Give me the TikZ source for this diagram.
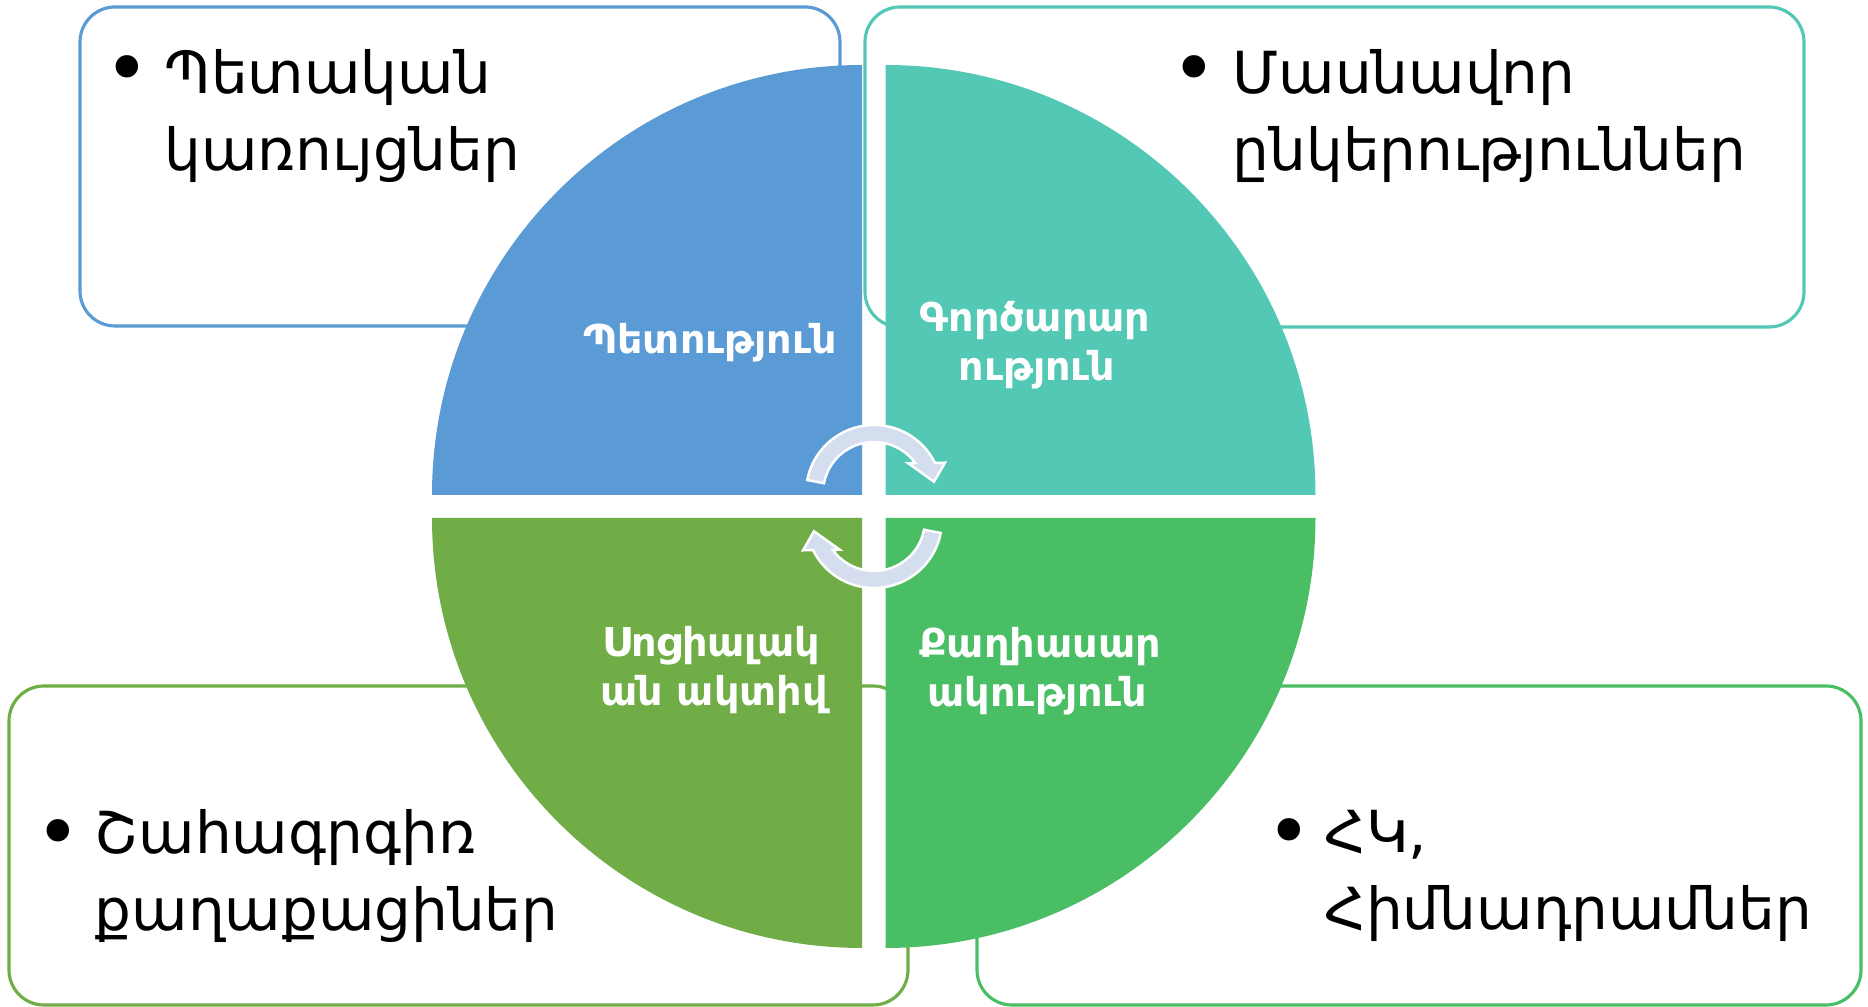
\documentclass[tikz,border=0pt]{standalone}
\usepackage{fontspec}
\newfontfamily\arm{DejaVu Sans}
\definecolor{cblue}{HTML}{5B9BD5}
\definecolor{cteal}{HTML}{52C8B5}
\definecolor{colive}{HTML}{70AD47}
\definecolor{cgreen}{HTML}{49BE64}
\definecolor{carrow}{HTML}{D5DEEF}
\tikzset{
  box/.style={rounded corners=3.5mm, line width=0.9pt, fill=white},
  cyc/.style={fill=carrow, draw=white, line width=0.7pt, line join=miter},
  bigtxt/.style={inner sep=0pt, anchor=base west, font=\arm\fontsize{16.5}{19}\selectfont},
  bul/.style={inner sep=0pt, anchor=base west, font=\arm\fontsize{22}{24}\selectfont},
  lbl/.style={inner sep=0pt, anchor=base, text=white, font=\arm\bfseries\fontsize{11.3}{13}\selectfont}
}
\begin{document}
\begin{tikzpicture}[x=0.1mm, y=0.1mm]
\useasboundingbox (0,0) rectangle (1868,1007);
% boxes
\draw[box, draw=cblue] (80,681) rectangle (840,1000);
\draw[box, draw=cteal] (865,680) rectangle (1804,1000);
\draw[box, draw=colive] (9,2) rectangle (908,321);
\draw[box, draw=cgreen] (977,2) rectangle (1861,321);
% quadrants
\fill[cblue] (862,512) -- ++(-430,0) arc[start angle=180, end angle=90, radius=43mm] -- cycle;
\fill[cteal] (885.5,512) -- ++(0,430) arc[start angle=90, end angle=0, radius=43mm] -- cycle;
\fill[colive] (862,489) -- ++(0,-430) arc[start angle=270, end angle=180, radius=43mm] -- cycle;
\fill[cgreen] (885.5,489) -- ++(430,0) arc[start angle=0, end angle=-90, radius=43mm] -- cycle;
% cycle arrows
\begin{scope}[shift={(874,514)}]
\draw[cyc] (169:68) arc[start angle=169, end angle=26.2, radius=6.8mm] -- (71,30.3) -- (60,11.3) -- (34.3,29.7) -- (36:51) arc[start angle=36, end angle=169, radius=5.1mm] -- cycle;
\end{scope}
\begin{scope}[shift={(874,487)}, rotate=180]
\draw[cyc] (169:68) arc[start angle=169, end angle=26.2, radius=6.8mm] -- (71,30.3) -- (60,11.3) -- (34.3,29.7) -- (36:51) arc[start angle=36, end angle=169, radius=5.1mm] -- cycle;
\end{scope}
% quadrant labels
\node[lbl] (l1) at (710,653.7) {Պետություն};
\node[lbl] (l2a) at (1035,675) {Գործարար};
\node[lbl] (l2b) at (1037,626) {ություն};
\node[lbl] (l3a) at (711,350.6) {Սոցիալակ};
\node[lbl] (l3b) at (714,301.6) {ան ակտիվ};
\node[lbl] (l4a) at (1040,349.6) {Քաղիասար};
\node[lbl] (l4b) at (1037.5,300.5) {ակություն};
% box texts
\node[bul] (b1) at (104,911) {•};
\node[bigtxt] (t1a) at (164,913.7) {Պետական};
\node[bigtxt] (t1b) at (164,836.3) {կառույցներ};
\node[bul] (b2) at (1171,911) {•};
\node[bigtxt] (t2a) at (1232,913.7) {Մասնավոր};
\node[bigtxt] (t2b) at (1232,836.3) {ընկերություններ};
\node[bul] (b3) at (34.5,147) {•};
\node[bigtxt] (t3a) at (94,153) {Շահագրգիռ};
\node[bigtxt] (t3b) at (94,76) {քաղաքացիներ};
\node[bul] (b4) at (1266,148.5) {•};
\node[bigtxt] (t4a) at (1324,154.5) {ՀԿ,};
\node[bigtxt] (t4b) at (1324,77) {Հիմնադրամներ};
\end{tikzpicture}
\end{document}
